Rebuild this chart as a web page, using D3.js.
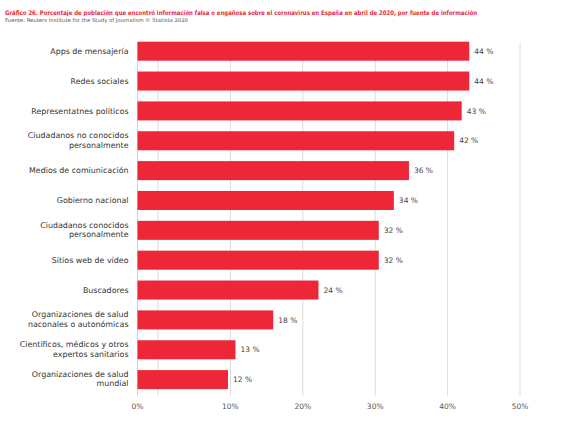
<!DOCTYPE html>
<html>
<head>
<meta charset="utf-8">
<script src="https://cdn.jsdelivr.net/npm/d3@7"></script>
<style>
  body { margin: 0; background: #fff; }
  svg { display: block; }
  text { font-family: "DejaVu Sans", sans-serif; }
</style>
</head>
<body>
<svg id="chart" width="567" height="426"></svg>
<script>
'use strict';

var title = "Gráfico 26. Porcentaje de población que encontró información falsa o engañosa sobre el coronavirus en España en abril de 2020, por fuente de información";
var source = "Fuente: Reuters Institute for the Study of Journalism © Statista 2020";

// "\n" marks where the label wraps
var categories = [
    "Apps de mensajería",
    "Redes sociales",
    "Representatnes políticos",
    "Ciudadanos no conocidos\npersonalmente",
    "Medios de comiunicación",
    "Gobierno nacional",
    "Ciudadanos conocidos\npersonalmente",
    "Sitios web de vídeo",
    "Buscadores",
    "Organizaciones de salud\nnaconales o autonómicas",
    "Cientificos, médicos y otros\nexpertos sanitarios",
    "Organizaciones de salud\nmundial"
];
var values = [44, 44, 43, 42, 36, 34, 32, 32, 24, 18, 13, 12];
var tickValues = [0, 10, 20, 30, 40, 50];
var tickLabels = ["0%", "10%", "20%", "30%", "40%", "50%"];

var red = "#ed2638";
var plotLeft = 137.5, plotRight = 520, plotTop = 36.3, plotBottom = 394.5;

var svg = d3.select("#chart");

// bars are measured from the baseline, the grid sits a little to the right of it
var x = d3.scaleLinear().domain([0, 50]).range([plotLeft, plotLeft + 377]);
var gx = d3.scaleLinear().domain([0, 50]).range([plotLeft + 20.5, plotRight]);
var y = d3.scaleBand()
    .domain(categories)
    .range([plotTop, plotBottom])
    .paddingInner(0.363)
    .paddingOuter(0.18);

// title + source
svg.append("text")
    .attr("x", 5).attr("y", 14.5)
    .attr("fill", red)
    .attr("font-size", 6.3)
    .attr("font-weight", "bold")
    .attr("textLength", 472)
    .attr("lengthAdjust", "spacingAndGlyphs")
    .text(title);
svg.append("text")
    .attr("x", 5).attr("y", 22)
    .attr("fill", "#555")
    .attr("font-size", 5.2)
    .attr("textLength", 183)
    .attr("lengthAdjust", "spacingAndGlyphs")
    .text(source);

// grid
var gridTop = y(categories[0]) + 1, gridBottom = plotBottom + 1;
svg.append("g").selectAll("line")
    .data(tickValues)
    .join("line")
    .attr("x1", function(d) { return gx(d); })
    .attr("x2", function(d) { return gx(d); })
    .attr("y1", gridTop)
    .attr("y2", gridBottom)
    .attr("stroke", "#dcdcdc")
    .attr("stroke-width", 1);
svg.append("line")
    .attr("x1", x(0)).attr("x2", x(0))
    .attr("y1", gridTop).attr("y2", gridBottom + 1)
    .attr("stroke", "#d0d0d0");

// tick labels (0% goes under the baseline)
svg.append("g").selectAll("text")
    .data(tickValues)
    .join("text")
    .attr("x", function(d) { return d === 0 ? x(0) : gx(d); })
    .attr("y", 408.5)
    .attr("text-anchor", "middle")
    .attr("fill", "#555")
    .attr("font-size", 7.5)
    .text(function(d, i) { return tickLabels[i]; });

// bars
svg.append("g").selectAll("rect")
    .data(values)
    .join("rect")
    .attr("x", x(0))
    .attr("y", function(d, i) { return y(categories[i]); })
    .attr("width", function(d) { return x(d) - x(0); })
    .attr("height", y.bandwidth())
    .attr("fill", red);

// value labels
svg.append("g").selectAll("text")
    .data(values)
    .join("text")
    .attr("x", function(d) { return x(d) + 5; })
    .attr("y", function(d, i) { return y(categories[i]) + y.bandwidth() / 2; })
    .attr("dy", "0.35em")
    .attr("fill", "#444")
    .attr("font-size", 7.5)
    .text(function(d) { return d + " %"; });

// category labels
var lab = svg.append("g").selectAll("text")
    .data(categories)
    .join("text")
    .attr("text-anchor", "end")
    .attr("fill", "#333")
    .attr("font-size", 7.9)
    .attr("transform", function(d) {
        var lines = d.split("\n").length;
        var cy = y(d) + y.bandwidth() / 2 - (lines - 1) * 5.5;
        return "translate(128.5," + cy + ")";
    });
lab.selectAll("tspan")
    .data(function(d) { return d.split("\n"); })
    .join("tspan")
    .attr("x", 0)
    .attr("dy", function(d, i) { return i === 0 ? "0.35em" : 9.5; })
    .text(function(d) { return d; });
</script>
</body>
</html>
